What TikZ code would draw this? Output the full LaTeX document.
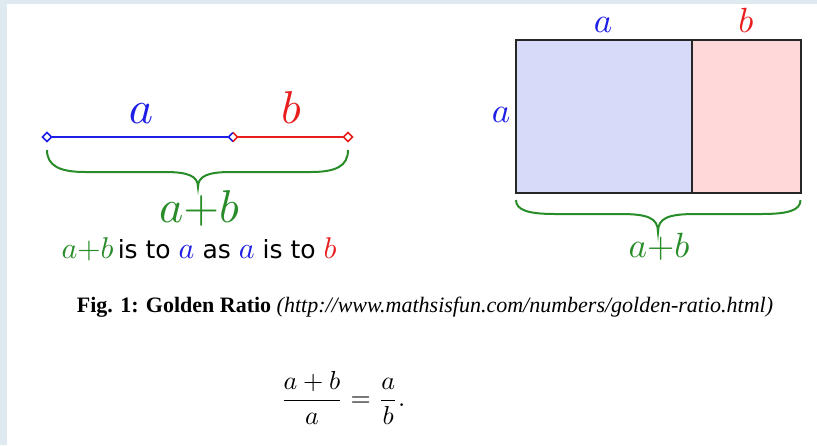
\documentclass[tikz,border=0pt]{standalone}
\usepackage{fontspec}
\newfontfamily\capfont{Liberation Serif}
\newfontfamily\sentfont{DejaVu Sans}
\newcommand\mathsc[2]{\scalebox{#1}{\normalsize$#2$}}
\definecolor{lblue}{RGB}{30,30,230}
\definecolor{lred}{RGB}{232,30,30}
\definecolor{lgreen}{RGB}{40,140,40}
\definecolor{rectblue}{RGB}{216,218,250}
\definecolor{rectred}{RGB}{255,217,217}
\definecolor{frame}{RGB}{222,234,240}
\tikzset{
  seglabel/.style={anchor=base,inner sep=0pt},
  bracepath/.style={draw=lgreen,line width=2pt},
  segline/.style={line width=2.4pt},
  marker/.style={line width=1.6pt,fill=white},
}
\begin{document}
\begin{tikzpicture}[x=1pt,y=-1pt]
\useasboundingbox (0,0) rectangle (817,445);
\fill[white] (0,0) rectangle (817,445);
\fill[frame] (0,0) rectangle (7,445);
\fill[frame] (0,0) rectangle (817,4);
% ---------- left diagram ----------
\coordinate (L0) at (47,137);
\coordinate (L1) at (233,137);
\coordinate (L2) at (348,137);
\draw[segline,lblue] (L0) -- (L1);
\draw[segline,lred] (L1) -- (L2);
\draw[marker,draw=lblue] (L0) ++(-4.5,0) -- ++(4.5,-4.5) -- ++(4.5,4.5) -- ++(-4.5,4.5) -- cycle;
\draw[marker,draw=lred] (L2) ++(-4.5,0) -- ++(4.5,-4.5) -- ++(4.5,4.5) -- ++(-4.5,4.5) -- cycle;
\fill[white] (L1) ++(-4.5,0) -- ++(4.5,-4.5) -- ++(4.5,4.5) -- ++(-4.5,4.5) -- cycle;
\draw[line width=1.6pt,lblue] (L1) ++(0,-4.5) -- ++(-4.5,4.5) -- ++(4.5,4.5);
\draw[line width=1.6pt,lred] (L1) ++(0,-4.5) -- ++(4.5,4.5) -- ++(-4.5,4.5);
\node[seglabel,text=lblue] (la) at (141,123) {\mathsc{4.6}{a}};
\node[seglabel,text=lred] (lb) at (291,123) {\mathsc{4.6}{b}};
\coordinate (LB0) at (47,150);
\coordinate (LB1) at (348,150);
\coordinate (LBt) at (198,187);
\draw[bracepath] (LB0) .. controls (47,166) and (60,172) .. (85,172) -- (165,172)
  .. controls (188,172) and (198,176) .. (LBt)
  .. controls (198,176) and (208,172) .. (231,172) -- (311,172)
  .. controls (336,172) and (348,166) .. (LB1);
\node[seglabel,text=lgreen] (lab) at (199,222) {\mathsc{4.6}{a{+}b}};
\node[anchor=base,inner sep=0pt] (sent) at (199,258) {\sentfont\fontsize{25}{28}\selectfont
  \textcolor{lgreen}{\mathsc{3}{a{+}b}}\,is to
  \textcolor{lblue}{\mathsc{3}{a}} as
  \textcolor{lblue}{\mathsc{3}{a}} is to
  \textcolor{lred}{\mathsc{3}{b}}};
% ---------- right diagram ----------
\coordinate (R0) at (516,40);
\coordinate (R1) at (692,192.5);
\coordinate (R2) at (800.5,40);
\fill[rectblue] (R0) rectangle (R1);
\fill[rectred] (692,40) rectangle (800.5,192.5);
\draw[line width=2pt,black!85] (R0) rectangle (800.5,192.5);
\draw[line width=2pt,black!85] (692,40) -- (R1);
\node[seglabel,text=lblue] (ra) at (603,32) {\mathsc{3.5}{a}};
\node[seglabel,text=lred] (rb) at (746,32) {\mathsc{3.5}{b}};
\node[seglabel,text=lblue] (rl) at (501,122) {\mathsc{3.5}{a}};
\coordinate (RB0) at (516,200);
\coordinate (RB1) at (800.5,200);
\coordinate (RBt) at (658,232);
\draw[bracepath] (RB0) .. controls (516,210) and (528,214) .. (555,214) -- (620,214)
  .. controls (648,214) and (658,218) .. (RBt)
  .. controls (658,218) and (668,214) .. (696,214) -- (762,214)
  .. controls (789,214) and (800.5,210) .. (RB1);
\node[seglabel,text=lgreen] (rab) at (659,257) {\mathsc{3.5}{a{+}b}};
% ---------- caption ----------
\node[anchor=base,inner sep=0pt] (cap) at (425,312) {\capfont\fontsize{22}{26}\selectfont
  \textbf{Fig. 1: Golden Ratio} \textit{(http://www.mathsisfun.com/numbers/golden-ratio.html)}};
% ---------- equation ----------
\node[inner sep=0pt] (eq) at (343,398) {\scalebox{2.6}{$\displaystyle\frac{a+b}{a}=\frac{a}{b}.$}};
\end{tikzpicture}
\end{document}
